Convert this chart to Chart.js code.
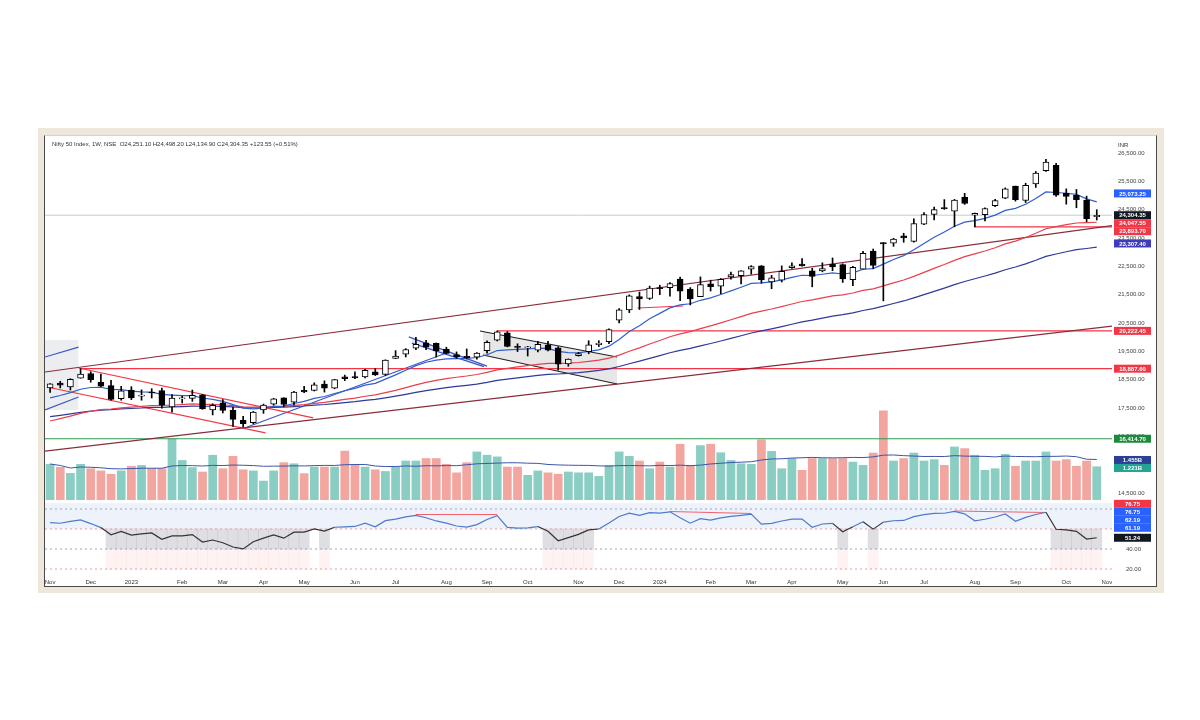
<!DOCTYPE html>
<html>
<head>
<meta charset="utf-8">
<script src="https://cdn.jsdelivr.net/npm/chart.js@4.4.1/dist/chart.umd.min.js"></script>
<style>
  body { margin: 0; background: #fff; width: 1200px; height: 720px; position: relative; font-family: "Liberation Sans", Arial, sans-serif; }
  #frame { position: absolute; left: 38px; top: 128px; width: 1126px; height: 465px; background: #eee7dc; }
  #panel { position: absolute; left: 44px; top: 135px; width: 1111px; height: 450px; background: #fff; border: 1px solid #4a4a4a; border-top-color: #d9d2c6; }
  #panel canvas { position: absolute; left: 0; top: 0; }
  #hdr { position: absolute; left: 7px; top: 5px; font-size: 6px; color: #333; white-space: nowrap; }
  #inr { position: absolute; left: 1073px; top: 6px; font-size: 6px; color: #333; }
</style>
</head>
<body>
<div id="frame"></div>
<div id="panel">
  <canvas id="c" width="1111" height="450"></canvas>
  <div id="hdr">Nifty 50 Index, 1W, NSE&nbsp; O24,251.10 H24,498.20 L24,134.90 C24,304.35 +123.55 (+0.51%)</div>
  <div id="inr">INR</div>
</div>
<script>
// weekly bars, Nov 2022 - Oct 2024 (last category is the empty week after)
const weeks = [
  '2022-11-07','2022-11-14','2022-11-21','2022-11-28','2022-12-05','2022-12-12','2022-12-19','2022-12-26',
  '2023-01-02','2023-01-09','2023-01-16','2023-01-23','2023-01-30','2023-02-06','2023-02-13','2023-02-20','2023-02-27',
  '2023-03-06','2023-03-13','2023-03-20','2023-03-27','2023-04-03','2023-04-10','2023-04-17','2023-04-24',
  '2023-05-01','2023-05-08','2023-05-15','2023-05-22','2023-05-29','2023-06-05','2023-06-12','2023-06-19','2023-06-26',
  '2023-07-03','2023-07-10','2023-07-17','2023-07-24','2023-07-31','2023-08-07','2023-08-14','2023-08-21','2023-08-28',
  '2023-09-04','2023-09-11','2023-09-18','2023-09-25','2023-10-02','2023-10-09','2023-10-16','2023-10-23','2023-10-30',
  '2023-11-06','2023-11-13','2023-11-20','2023-11-27','2023-12-04','2023-12-11','2023-12-18','2023-12-25',
  '2024-01-01','2024-01-08','2024-01-15','2024-01-22','2024-01-29','2024-02-05','2024-02-12','2024-02-19','2024-02-26',
  '2024-03-04','2024-03-11','2024-03-18','2024-03-25','2024-04-01','2024-04-08','2024-04-15','2024-04-22','2024-04-29',
  '2024-05-06','2024-05-13','2024-05-20','2024-05-27','2024-06-03','2024-06-10','2024-06-17','2024-06-24',
  '2024-07-01','2024-07-08','2024-07-15','2024-07-22','2024-07-29','2024-08-05','2024-08-12','2024-08-19','2024-08-26',
  '2024-09-02','2024-09-09','2024-09-16','2024-09-23','2024-09-30','2024-10-07','2024-10-14','2024-10-21','2024-10-28',
  '2024-11-04'
];
const monthNames = ['Jan','Feb','Mar','Apr','May','Jun','Jul','Aug','Sep','Oct','Nov','Dec'];

const opens = [
  18211, 18377, 18247, 18552, 18719, 18402, 18288, 17830,
  18131, 17914, 18034, 18118, 17541, 17818, 17840, 17965, 17428,
  17681, 17422, 17066, 16985, 17428, 17634, 17863, 17708,
  18125, 18121, 18340, 18201, 18600, 18612, 18596, 18774, 18683,
  19246, 19400, 19612, 19800, 19784, 19577, 19383, 19320, 19298,
  19525, 19890, 20155, 19679, 19622, 19540, 19730, 19621, 19053,
  19345, 19487, 19731, 19844, 20601, 20965, 21434, 21365,
  21727, 21748, 22053, 21700, 21433, 21886, 21800, 22124, 22169,
  22403, 22517, 21946, 22013, 22455, 22579, 22339, 22336, 22568,
  22561, 22028, 22404, 23039, 23337, 23320, 23574, 23382,
  23987, 24329, 24577, 24445, 24943, 24303, 24320, 24637, 24906,
  25333, 24823, 25406, 25873, 26062, 25085, 25008, 24838, 24251
];
const highs = [
  18362, 18443, 18534, 18888, 18781, 18697, 18474, 18265,
  18252, 18141, 18183, 18202, 17972, 17917, 18134, 17980, 17645,
  17800, 17529, 17207, 17381, 17638, 17842, 17863, 18089,
  18267, 18389, 18459, 18508, 18662, 18777, 18865, 18887, 19201,
  19524, 19595, 19991, 19887, 19795, 19646, 19480, 19584, 19458,
  19867, 20222, 20195, 19766, 19675, 19850, 19850, 19661, 19233,
  19464, 19875, 19876, 20291, 21006, 21493, 21593, 21801,
  21834, 21928, 22124, 21750, 22127, 22012, 22069, 22297, 22353,
  22526, 22527, 22180, 22516, 22620, 22776, 22430, 22625, 22795,
  22588, 22502, 23027, 23111, 23339, 23490, 23667, 24174,
  24401, 24592, 24855, 24861, 25078, 24382, 24563, 24867, 25269,
  25333, 25433, 25849, 26277, 26135, 25234, 25212, 24978, 24498
];
const lows = [
  18054, 18209, 18133, 18552, 18410, 18255, 17774, 17775,
  17796, 17775, 17853, 17494, 17353, 17676, 17735, 17455, 17255,
  17324, 16850, 16828, 16941, 17312, 17597, 17553, 17612,
  18042, 18100, 18061, 18179, 18464, 18538, 18558, 18647, 18647,
  19239, 19300, 19563, 19563, 19296, 19413, 19254, 19229, 19223,
  19432, 19866, 19657, 19493, 19334, 19480, 19518, 18838, 18974,
  19330, 19414, 19669, 19768, 20507, 20867, 20977, 21330,
  21500, 21450, 21286, 21137, 21429, 21629, 21530, 22046, 21875,
  22224, 21905, 21710, 21947, 22428, 22503, 21777, 22305, 22348,
  21932, 21822, 22404, 22418, 21281, 23206, 23350, 23350,
  23970, 24141, 24508, 23893, 24686, 23894, 24099, 24607, 24887,
  24802, 24753, 25285, 25847, 24966, 24694, 24567, 24074, 24135
];
const closes = [
  18350, 18308, 18513, 18696, 18497, 18269, 17807, 18105,
  17859, 17957, 18028, 17604, 17854, 17857, 17944, 17466, 17594,
  17413, 17100, 16945, 17360, 17599, 17828, 17624, 18065,
  18069, 18315, 18203, 18499, 18534, 18563, 18826, 18666, 19189,
  19332, 19565, 19745, 19646, 19517, 19428, 19310, 19266, 19435,
  19820, 20192, 19674, 19638, 19654, 19751, 19543, 19047, 19231,
  19425, 19732, 19795, 20268, 20969, 21457, 21349, 21731,
  21711, 21895, 21622, 21353, 21854, 21783, 22041, 22213, 22339,
  22494, 22023, 22097, 22327, 22514, 22519, 22147, 22420, 22476,
  22055, 22466, 22957, 22531, 23290, 23466, 23501, 24011,
  24324, 24502, 24531, 24835, 24718, 24368, 24541, 24823, 25236,
  24852, 25357, 25791, 26179, 25015, 24964, 24854, 24181, 24304
];
// weekly volume, billions
const volumes = [
  1.31, 1.20, 0.98, 1.31, 1.15, 1.07, 0.95, 1.07,
  1.24, 1.27, 1.15, 1.15, 2.24, 1.45, 1.19, 1.03, 1.64,
  1.15, 1.60, 1.11, 1.07, 0.70, 1.07, 1.37, 1.33,
  0.97, 1.21, 1.21, 1.21, 1.79, 1.30, 1.21, 1.11, 1.05,
  1.21, 1.43, 1.43, 1.52, 1.52, 1.31, 1.00, 1.37, 1.76,
  1.64, 1.58, 1.21, 1.21, 0.91, 1.07, 1.00, 0.95, 1.03,
  1.00, 1.00, 0.87, 1.27, 1.76, 1.60, 1.43, 1.15,
  1.39, 1.21, 2.04, 1.27, 1.99, 2.04, 1.73, 1.45, 1.33,
  1.31, 2.20, 1.78, 1.15, 1.52, 1.09, 1.52, 1.52, 1.52,
  1.52, 1.39, 1.27, 1.72, 3.25, 1.43, 1.52, 1.72,
  1.43, 1.48, 1.27, 1.94, 1.88, 1.64, 1.09, 1.15, 1.67,
  1.24, 1.43, 1.43, 1.76, 1.43, 1.48, 1.24, 1.43, 1.221
];
const prevClose = 18117;          // close of the week before the first bar
const emaSeeds = { fast: 17750, mid: 16950, slow: 17150 };
const rsiSeed = { gain: 200, loss: 110 };

const priceTicks = [14500, 15000, 15500, 16000, 16500, 17000, 17500, 18000, 18500, 19000, 19500, 20000,
  20500, 21000, 21500, 22000, 22500, 23000, 23500, 24000, 24500, 25000, 25500, 26000, 26500];
const rsiTicks = [20, 40, 60, 80];
const rsiLevels = [80, 60, 40, 20];

// drawn objects, in (bar index, price) terms
const drawings = [
  { kind: 'maroon', pts: [[-0.5, 18770], [104.5, 23940]] },
  { kind: 'maroon', pts: [[-0.5, 15980], [104.5, 20390]] },
  { kind: 'red', pts: [[3, 18887.6], [104.5, 18887.6]] },
  { kind: 'red', pts: [[44, 20222.45], [104.5, 20222.45]] },
  { kind: 'green', pts: [[-0.5, 16414.7], [104.5, 16414.7]] },
  { kind: 'red', pts: [[2.8, 18912], [25.9, 17150]] },
  { kind: 'red', pts: [[-0.3, 18240], [21.2, 16620]] },
  { kind: 'red', pts: [[57.8, 21030], [62.3, 21100]] },
  { kind: 'red', pts: [[91, 24150], [91, 23893.7], [104.5, 23893.7]] },
  { kind: 'blue', pts: [[-0.5, 19300], [2.8, 19650]] },
  { kind: 'blue', pts: [[-0.5, 17430], [2.8, 17890]] },
  { kind: 'blue', pts: [[19.4, 16830], [39, 19440]] },
  { kind: 'last', pts: [[-0.5, 24304.35], [104.5, 24304.35]] }
];
const zones = [
  { kind: 'grey', top: [[-0.5, 19900], [2.8, 19900]], bottom: [[-0.5, 17430], [2.8, 17430]] },
  { kind: 'blue', top: [[35.3, 20010], [43, 18980]], bottom: [[35.6, 19790], [42.7, 18960]] },
  { kind: 'black', top: [[42.3, 20218], [55.8, 19300]], bottom: [[42.6, 19371], [55.8, 18347]] }
];
const rsiDivergences = [
  [[36, 74.5], [44, 74.5]],
  [[61, 77.5], [69, 75.5]],
  [[89, 78], [98, 76.5]]
];

const priceTags = [
  { value: 25073.25, text: '25,073.25', kind: 'blue' },
  { value: 24304.35, text: '24,304.35', kind: 'black' },
  { value: 24047.55, text: '24,047.55', kind: 'red' },
  { value: 23893.70, text: '23,893.70', kind: 'red' },
  { value: 23307.40, text: '23,307.40', kind: 'indigo' },
  { value: 20222.45, text: '20,222.45', kind: 'red' },
  { value: 18887.60, text: '18,887.60', kind: 'red' },
  { value: 16414.70, text: '16,414.70', kind: 'green' }
];
const volumeTags = [
  { value: 1.455, text: '1.455B', kind: 'navy' },
  { value: 1.221, text: '1.221B', kind: 'teal' }
];
const rsiTags = [
  { value: 76.75, text: '76.75', kind: 'blue' },
  { value: 76.75, text: '76.75', kind: 'red' },
  { value: 62.19, text: '62.19', kind: 'blue' },
  { value: 61.19, text: '61.19', kind: 'blue' },
  { value: 51.24, text: '51.24', kind: 'black' }
];

const lineColors = { maroon: '#8c2c3b', red: '#f23645', green: '#2e9e4f', blue: '#3b55c8', black: '#222', grey: '#d6d8de', last: '#c8cad3' };
const zoneFills = { grey: 'rgba(200,203,212,0.35)', blue: 'rgba(150,165,210,0.25)', black: 'rgba(160,160,160,0.25)' };
const tagColors = { blue: '#2962ff', black: '#131722', red: '#f23645', indigo: '#3f3cbb', green: '#1b8a3a', navy: '#2b3f94', teal: '#22a394' };

function ema(values, period, seed) {
  const k = 2 / (period + 1);
  let prev = seed;
  return values.map(v => (prev = prev + k * (v - prev)));
}
function sma(values, n) {
  return values.map((_, i) => {
    const win = values.slice(Math.max(0, i - n + 1), i + 1);
    return win.reduce((a, b) => a + b, 0) / win.length;
  });
}
function rsiSeries(values, n, prev, g0, l0) {
  let g = g0, l = l0, p = prev;
  return values.map(v => {
    const d = v - p;
    p = v;
    g = (g * (n - 1) + Math.max(d, 0)) / n;
    l = (l * (n - 1) + Math.max(-d, 0)) / n;
    return 100 - 100 / (1 + g / l);
  });
}
const fmt = v => v.toLocaleString('en-US', { minimumFractionDigits: 2, maximumFractionDigits: 2 });

const up = closes.map((c, i) => c >= opens[i]);
const emaFast = ema(closes, 10, emaSeeds.fast);
const emaMid = ema(closes, 30, emaSeeds.mid);
const emaSlow = ema(closes, 50, emaSeeds.slow);
const volMA = sma(volumes, 20);
const rsi = rsiSeries(closes, 14, prevClose, rsiSeed.gain, rsiSeed.loss);

const toXY = pts => pts.map(p => ({ x: p[0], y: p[1] }));
const datasets = [];

// candles
datasets.push({
  type: 'bar', data: opens.map((o, i) => [o, closes[i]]), yAxisID: 'y',
  backgroundColor: up.map(u => u ? '#fff' : '#000'), borderColor: '#000', borderWidth: 1,
  borderSkipped: false, barThickness: 6, minBarLength: 1, grouped: false, order: 0
});
datasets.push({
  type: 'bar', data: lows.map((l, i) => [l, highs[i]]), yAxisID: 'y',
  backgroundColor: '#000', barThickness: 1, grouped: false, order: 1
});

// moving averages
[[emaFast, '#2f5fd0'], [emaMid, '#e8404e'], [emaSlow, '#2d3a9c']].forEach(([d, c]) => {
  datasets.push({ type: 'line', data: d, yAxisID: 'y', borderColor: c, borderWidth: 1.2, pointRadius: 0, order: 2 });
});

// drawings
drawings.forEach(d => {
  datasets.push({
    type: 'line', data: toXY(d.pts), xAxisID: 'xl', yAxisID: 'y',
    borderColor: lineColors[d.kind], borderWidth: d.kind === 'last' ? 1 : 1.2, pointRadius: 0, order: 3
  });
});
zones.forEach(z => {
  const edge = z.kind === 'grey' ? 'rgba(0,0,0,0)' : lineColors[z.kind];
  datasets.push({ type: 'line', data: toXY(z.top), xAxisID: 'xl', yAxisID: 'y', borderColor: edge, borderWidth: 1.2, pointRadius: 0, order: 4 });
  datasets.push({ type: 'line', data: toXY(z.bottom), xAxisID: 'xl', yAxisID: 'y', borderColor: edge, borderWidth: 1.2, pointRadius: 0,
    fill: '-1', backgroundColor: zoneFills[z.kind], order: 4 });
});

// volume
datasets.push({
  type: 'bar', data: volumes, yAxisID: 'vol',
  backgroundColor: up.map(u => u ? '#8acdc2' : '#f3a5a0'),
  categoryPercentage: 1, barPercentage: 0.86, grouped: false, order: 9
});
datasets.push({ type: 'line', data: volMA, yAxisID: 'vol', borderColor: '#3b55a8', borderWidth: 1, pointRadius: 0, order: 8 });

// RSI pane
datasets.push({
  type: 'bar', data: rsi.map(v => (v >= 40 && v < 60) ? [40, 60] : null), yAxisID: 'rsi',
  backgroundColor: 'rgba(150,150,162,0.3)', categoryPercentage: 1, barPercentage: 1, grouped: false, order: 12
});
datasets.push({
  type: 'bar', data: rsi.map(v => (v >= 40 && v < 60) ? [20, 40] : null), yAxisID: 'rsi',
  backgroundColor: 'rgba(250,205,205,0.25)', categoryPercentage: 1, barPercentage: 1, grouped: false, order: 12
});
rsiLevels.forEach(lv => {
  datasets.push({
    type: 'line', data: [{ x: -0.5, y: lv }, { x: 104.5, y: lv }], xAxisID: 'xl', yAxisID: 'rsi',
    borderColor: (lv === 60 || lv === 20) ? '#f29a9a' : '#9aa6c6', borderWidth: 1, borderDash: [2, 3], pointRadius: 0, order: 11
  });
});
rsiDivergences.forEach(pts => {
  datasets.push({ type: 'line', data: toXY(pts), xAxisID: 'xl', yAxisID: 'rsi', borderColor: '#f0606a', borderWidth: 1.2, pointRadius: 0, order: 5 });
});
datasets.push({
  type: 'line', data: rsi, yAxisID: 'rsi', borderWidth: 1.2, pointRadius: 0, order: 2, borderColor: '#333',
  segment: {
    borderColor: c => {
      const lo = Math.min(c.p0.parsed.y, c.p1.parsed.y);
      return lo < 40 ? '#e8404e' : lo < 60 ? '#333' : '#4f79c9';
    }
  }
});

const bandPlugin = {
  id: 'bands',
  beforeDraw(chart) {
    const { ctx, chartArea } = chart;
    const r = chart.scales.rsi;
    const top = r.getPixelForValue(r.max), mid = r.getPixelForValue(60);
    ctx.save();
    ctx.fillStyle = '#eef3fb';
    ctx.fillRect(chartArea.left, top, chartArea.width, mid - top);
    ctx.restore();
  }
};

const tagPlugin = {
  id: 'tags',
  afterDraw(chart) {
    const { ctx, chartArea } = chart;
    const x0 = chartArea.right + 2;
    ctx.save();
    ctx.font = 'bold 6px "Liberation Sans", Arial, sans-serif';
    ctx.textAlign = 'center';
    ctx.textBaseline = 'middle';
    [[priceTags, 'y', 1], [volumeTags, 'vol', 1], [rsiTags, 'rsi', -1]].forEach(([tags, axis, dir]) => {
      const scale = chart.scales[axis];
      const items = tags.map(t => Object.assign({}, t, { py: scale.getPixelForValue(t.value) }));
      items.sort((a, b) => dir * (a.py - b.py));
      let last = null;
      items.forEach(t => {
        if (last !== null && dir * (t.py - last) < 8) t.py = last + dir * 8;
        last = t.py;
        ctx.fillStyle = tagColors[t.kind];
        ctx.fillRect(x0, t.py - 4, 37, 8);
        ctx.fillStyle = '#fff';
        ctx.fillText(t.text, x0 + 18.5, t.py + 0.5);
      });
    });
    ctx.restore();
  }
};

const tickFont = { family: '"Liberation Sans", Arial, sans-serif', size: 6 };
// keep label overflow from shrinking the plot
const noPad = a => { a.paddingTop = 0; a.paddingBottom = 0; a.paddingLeft = 0; a.paddingRight = 0; };

new Chart(document.getElementById('c'), {
  type: 'bar',
  data: { labels: weeks, datasets },
  options: {
    responsive: false,
    animation: false,
    events: [],
    layout: { padding: { top: 4, left: 0, right: 0, bottom: 0 }, autoPadding: false },
    plugins: { legend: { display: false }, tooltip: { enabled: false } },
    scales: {
      x: {
        type: 'category', offset: true,
        grid: { display: false, drawTicks: false }, border: { display: false },
        ticks: {
          autoSkip: false, maxRotation: 0, padding: 3, font: tickFont, color: '#333',
          callback: (v, i) => {
            const d = weeks[i];
            if (!d || +d.slice(8) > 7) return '';
            const m = +d.slice(5, 7) - 1;
            return m === 0 ? d.slice(0, 4) : monthNames[m];
          }
        },
        afterFit: a => { a.height = 10; noPad(a); }
      },
      xl: { type: 'linear', display: false, offset: false, min: -0.5, max: 104.5 },
      y: {
        position: 'right', stack: 'pane', stackWeight: 363, min: 14147, max: 26959,
        grid: { display: false, drawTicks: false }, border: { display: false },
        afterBuildTicks: a => { a.ticks = priceTicks.map(v => ({ value: v })); },
        ticks: { font: tickFont, color: '#444', padding: 6, callback: v => fmt(v) },
        afterFit: a => { a.width = 44; noPad(a); }
      },
      rsi: {
        position: 'right', stack: 'pane', stackWeight: 73, min: 13, max: 86,
        grid: { display: false, drawTicks: false }, border: { display: false },
        afterBuildTicks: a => { a.ticks = rsiTicks.map(v => ({ value: v })); },
        ticks: { font: tickFont, color: '#444', padding: 14, callback: v => (v <= 40 ? v.toFixed(2) : '') },
        afterFit: a => { a.width = 44; noPad(a); }
      },
      vol: { position: 'left', display: false, min: -2.764, max: 13.09 }
    }
  },
  plugins: [bandPlugin, tagPlugin]
});
</script>
</body>
</html>
